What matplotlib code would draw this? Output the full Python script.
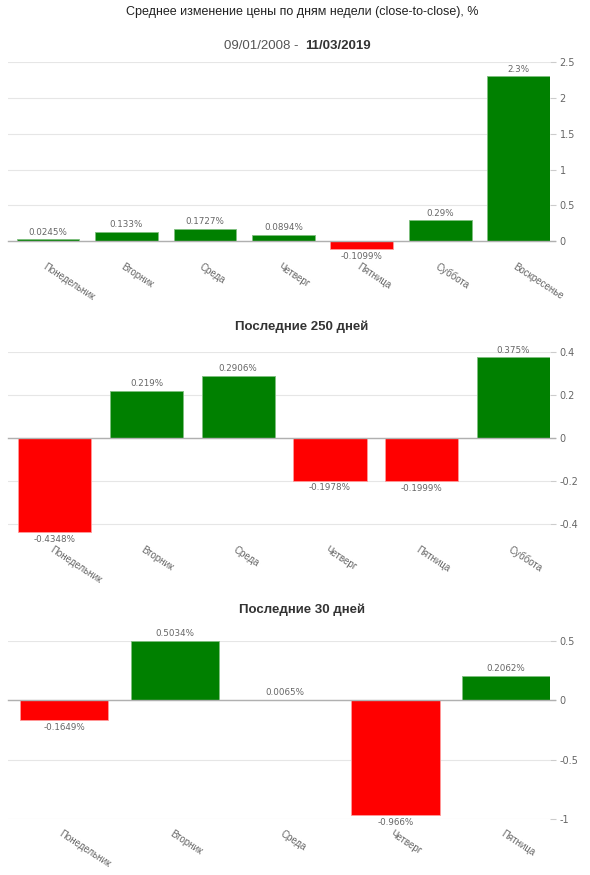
"""Average close-to-close change by weekday, three panels."""

import matplotlib
matplotlib.use('Agg')
import matplotlib.pyplot as plt

plt.rcParams['axes.unicode_minus'] = False

# ── Data ──
days_all = ['Понедельник', 'Вторник', 'Среда', 'Четверг', 'Пятница', 'Суббота', 'Воскресенье']
vals_all = [0.0245, 0.133, 0.1727, 0.0894, -0.1099, 0.29, 2.3]

days_250 = ['Понедельник', 'Вторник', 'Среда', 'Четверг', 'Пятница', 'Суббота']
vals_250 = [-0.4348, 0.219, 0.2906, -0.1978, -0.1999, 0.375]

days_30 = ['Понедельник', 'Вторник', 'Среда', 'Четверг', 'Пятница']
vals_30 = [-0.1649, 0.5034, 0.0065, -0.966, 0.2062]

ticks_all = [0, 0.5, 1, 1.5, 2, 2.5]
ticks_250 = [-0.4, -0.2, 0, 0.2, 0.4]
ticks_30 = [-1, -0.5, 0, 0.5]

GREEN = '#008000'
RED = '#ff0000'
GRID = '#e6e6e6'
TXT = '#666666'

W, H = 590, 875
fig = plt.figure(figsize=(W / 100, H / 100), dpi=100)
fig.patch.set_facecolor('white')


def px_axes(top, bottom, left=8, right=550):
    """Axes placed by pixel box (top-left origin)."""
    return fig.add_axes([left / W, 1 - bottom / H, (right - left) / W, (bottom - top) / H])


def draw_panel(ax, days, vals, ticks, ylim):
    n = len(days)
    colors = [GREEN if v >= 0 else RED for v in vals]
    edges = ['#7fbf7f' if v >= 0 else '#ff9a9a' for v in vals]
    ax.bar(range(n), vals, width=0.8, color=colors, edgecolor=edges,
           linewidth=0.6, zorder=3)
    ax.set_xlim(-0.51, n - 0.6)
    ax.set_ylim(*ylim)
    for s in ax.spines.values():
        s.set_visible(False)
    for t in ticks:
        ax.axhline(t, color=GRID, lw=0.8, zorder=1)
    ax.plot([0, 1.01], [0, 0], transform=ax.get_yaxis_transform(),
            color='#b0b0b0', lw=1, zorder=4, clip_on=False)
    ax.yaxis.tick_right()
    ax.set_yticks(ticks)
    ax.set_yticklabels([f'{t:g}' for t in ticks])
    ax.tick_params(axis='y', length=4, color='#cccccc', labelcolor=TXT,
                   labelsize=7, pad=3)
    ax.set_xticks([])
    for lab in ax.get_yticklabels():
        lab.set_family('DejaVu Sans')

    # value labels
    for i, v in enumerate(vals):
        ax.annotate(f'{v:g}%', (i, v), xytext=(0, 2 if v >= 0 else -2),
                    textcoords='offset points', ha='center',
                    va='bottom' if v >= 0 else 'top', fontsize=6.3,
                    color=TXT, family='DejaVu Sans', zorder=5,
                    annotation_clip=False)

    # rotated category labels
    for i, d in enumerate(days):
        ax.annotate(d, (i, 0), xycoords=('data', 'axes fraction'),
                    xytext=(-3, -10), textcoords='offset points',
                    rotation=-33, rotation_mode='anchor', ha='left', va='center',
                    fontsize=7, color=TXT, family='Liberation Sans',
                    annotation_clip=False)


ax1 = px_axes(62, 252)
draw_panel(ax1, days_all, vals_all, ticks_all, (-0.15, 2.5))

ax2 = px_axes(352, 535)
draw_panel(ax2, days_250, vals_250, ticks_250, (-0.45, 0.4))

ax3 = px_axes(641, 819)
draw_panel(ax3, days_30, vals_30, ticks_30, (-1, 0.5))

# ── Titles ──
cx = 302 / W
fig.text(cx, 1 - 12 / H, 'Среднее изменение цены по дням недели (close-to-close), %',
         ha='center', va='center', fontsize=9, color='#222222', family='Liberation Sans')
fig.text(299 / W, 1 - 46 / H, '09/01/2008 -', ha='right', va='center',
         fontsize=9.5, color='#555555', family='Liberation Sans')
fig.text(305 / W, 1 - 46 / H, '11/03/2019', ha='left', va='center',
         fontsize=9.5, color='#333333', fontweight='bold', family='Liberation Sans')
fig.text(cx, 1 - 327 / H, 'Последние 250 дней', ha='center', va='center',
         fontsize=9.5, color='#333333', fontweight='bold', family='Liberation Sans')
fig.text(cx, 1 - 610 / H, 'Последние 30 дней', ha='center', va='center',
         fontsize=9.5, color='#333333', fontweight='bold', family='Liberation Sans')

fig.savefig('out.png', dpi=100, facecolor='white')
